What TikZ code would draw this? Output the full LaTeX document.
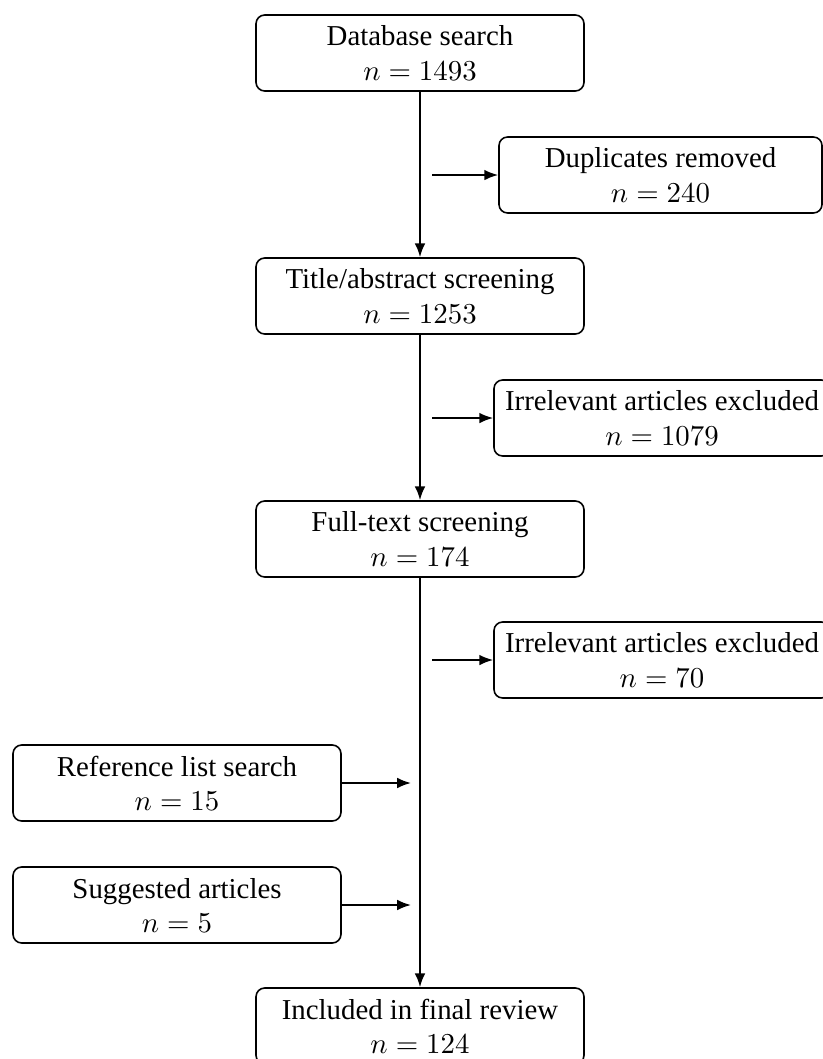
\documentclass[tikz,border=0pt]{standalone}
\usepackage{fontspec}
\setmainfont{Liberation Serif}
\usetikzlibrary{arrows.meta}
\begin{document}
\begin{tikzpicture}[x=0.3467pt,y=-0.3467pt,
  box/.style={draw, rounded corners=3pt, line width=0.55pt, align=center,
    minimum height=26.35pt, minimum width=113.7pt, inner sep=0pt,
    font=\fontsize{10}{11.8}\selectfont},
  widebox/.style={box, minimum width=116.5pt},
  conn/.style={line width=0.65pt, -{Latex[length=4.8pt,width=3.7pt]}}]
\useasboundingbox (0,0) rectangle (823,1059);
\clip (0,0) rectangle (823,1059);
\node[box] (db) at (420,53) {Database search\\$n=1493$};
\node[box, minimum width=112pt] (dup) at (660.5,175) {Duplicates removed\\$n=240$};
\node[box] (ts) at (420,296) {Title/abstract screening\\$n=1253$};
\node[widebox] (irr1) at (662,418) {Irrelevant articles excluded\\$n=1079$};
\node[box] (ft) at (420,539) {Full-text screening\\$n=174$};
\node[widebox] (irr2) at (662,660) {Irrelevant articles excluded\\$n=70$};
\node[box] (ref) at (177,783) {Reference list search\\$n=15$};
\node[box] (sug) at (177,905) {Suggested articles\\$n=5$};
\node[box] (inc) at (420,1026) {Included in final review\\$n=124$};
\coordinate (b1) at (432,175);
\coordinate (b2) at (432,418);
\coordinate (b3) at (432,660);
\coordinate (m1) at (411,783);
\coordinate (m2) at (411,905);
\draw[conn] (db.south) -- (ts.north);
\draw[conn] (ts.south) -- (ft.north);
\draw[conn] (ft.south) -- (inc.north);
\draw[conn] (b1) -- (dup.west);
\draw[conn] (b2) -- (irr1.west);
\draw[conn] (b3) -- (irr2.west);
\draw[conn] (ref.east) -- (m1);
\draw[conn] (sug.east) -- (m2);
\end{tikzpicture}
\end{document}
